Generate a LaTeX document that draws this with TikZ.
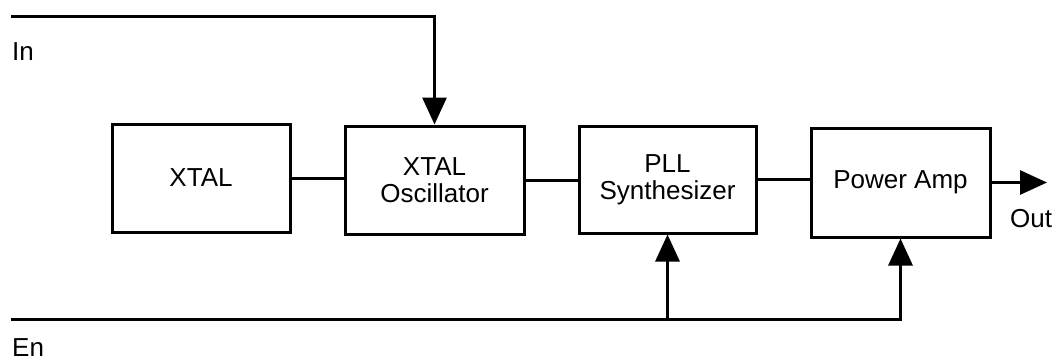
\documentclass[tikz,border=0pt]{standalone}
\usepackage{fontspec}
\setmainfont{Liberation Sans}
\usetikzlibrary{arrows.meta,calc,positioning}
\tikzset{blk/.style={draw,line width=3pt,align=center,inner sep=0pt,font=\fontsize{26}{27}\selectfont},
  lbl/.style={anchor=west,inner sep=0pt,font=\fontsize{26}{26}\selectfont},
  arr/.style={-{Triangle[length=27pt,width=24pt]},line width=3pt},
  wire/.style={line width=3pt}}

\begin{document}
\begin{tikzpicture}[x=1pt,y=-1pt]
\useasboundingbox (0,0) rectangle (1054,361);
\node[blk,minimum width=178pt,minimum height=108pt] (xtal) at (201,178) {XTAL};
\node[blk,minimum width=179pt,minimum height=108pt] (osc) at (434.5,180) {XTAL\\Oscillator};
\node[blk,minimum width=177pt,minimum height=107pt] (pll) at (667.5,179.5) {PLL\\Synthesizer};
\node[blk,minimum width=179pt,minimum height=109pt] (amp) at (900.5,182.5) {Power Amp};
\coordinate (inl) at (11,17);
\coordinate (enl) at (11,319);
\coordinate (out) at (1047,182.5);
\draw[wire] (xtal.east) -- (xtal.east -| osc.west);
\draw[wire] (osc.east) -- (osc.east -| pll.west);
\draw[wire] (pll.east) -- (pll.east -| amp.west);
\draw[arr] (amp.east) -- (out);
\draw[arr] (inl) -| (osc.north);
\draw[arr] (enl) -| (amp.south);
\draw[arr] (pll.south |- enl) -- (pll.south);
\node[lbl] (inlbl) at (12,52) {In};
\node[lbl] (enlbl) at (12,348) {En};
\node[lbl] (outlbl) at (1010,219) {Out};
\end{tikzpicture}
\end{document}
